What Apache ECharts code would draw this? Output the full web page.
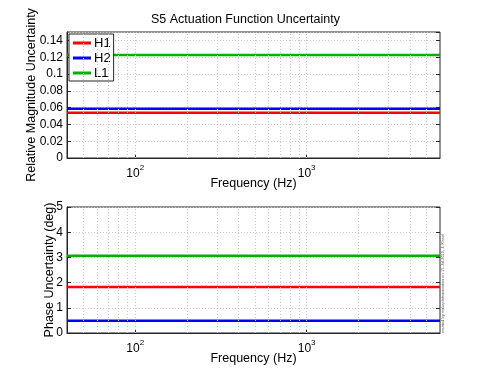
<!DOCTYPE html>
<html>
<head>
<meta charset="utf-8">
<script src="https://cdn.jsdelivr.net/npm/echarts@6/dist/echarts.min.js"></script>
<style>
html,body{margin:0;padding:0;background:#fff;}
#chart{width:491px;height:379px;}
</style>
</head>
<body>
<div id="chart"></div>
<script>
// ---- data ----
const freqRange = [40, 6000];                 // Hz, plotted span
const seriesNames = ['H1', 'H2', 'L1'];
const magUncertainty = [0.054, 0.0585, 0.1225]; // relative magnitude uncertainty
const phaseUncertainty = [1.83, 0.49, 3.07];    // degrees
const minorGridFreqs = [50, 60, 70, 80, 90, 200, 300, 400, 500, 600, 700, 800, 900, 2000, 3000, 4000, 5000];
const majorGridFreqs = [100, 1000];
const magTicks = { min: 0, max: 0.15, interval: 0.02 };
const phaseTicks = { min: 0, max: 5, interval: 1 };
const colors = ['#ff0000', '#0000ff', '#00b000'];

const FONT = '"Liberation Sans", Arial, Helvetica, sans-serif';
const chart = echarts.init(document.getElementById('chart'), null, { renderer: 'canvas' });

function xLabel(v) {
  const e = Math.log10(v);
  if (Math.abs(e - Math.round(e)) < 1e-6) return '{b|10}{s|' + Math.round(e) + '}';
  return '';
}

function makeX(gridIndex) {
  return {
    type: 'log', logBase: 10, gridIndex,
    min: freqRange[0], max: freqRange[1],
    name: 'Frequency (Hz)', nameLocation: 'middle', nameGap: 19, nameMoveOverlap: false,
    nameTextStyle: { fontFamily: FONT, fontSize: 12.5, color: '#000' },
    axisLine: { show: true, lineStyle: { color: '#262626', width: 1 } },
    axisTick: { show: true, inside: true, length: 4, lineStyle: { color: '#262626' } },
    splitLine: { show: false },
    axisLabel: {
      formatter: xLabel, margin: 6, showMinLabel: false, showMaxLabel: false,
      rich: {
        b: { fontFamily: FONT, fontSize: 12, color: '#000', verticalAlign: 'bottom', lineHeight: 16 },
        s: { fontFamily: FONT, fontSize: 8, color: '#000', verticalAlign: 'top', lineHeight: 8 }
      }
    }
  };
}

function makeY(gridIndex, t, name, nameGap) {
  return {
    type: 'value', gridIndex, min: t.min, max: t.max, interval: t.interval,
    name, nameLocation: 'middle', nameGap, nameMoveOverlap: false,
    nameTextStyle: { fontFamily: FONT, fontSize: 12.5, color: '#000' },
    axisLine: { show: true, lineStyle: { color: '#262626', width: 1 } },
    axisTick: { show: true, inside: true, length: 4, lineStyle: { color: '#262626' } },
    splitLine: { show: true, lineStyle: { color: '#c8c8c8', type: [1, 2], width: 1 } },
    axisLabel: { fontFamily: FONT, fontSize: 12, color: '#000', margin: 4, showMaxLabel: t.max % t.interval === 0 ? true : false }
  };
}

function makeYRight(gridIndex, t) {
  return {
    type: 'value', gridIndex, position: 'right', min: t.min, max: t.max, interval: t.interval,
    axisLine: { show: false },
    axisTick: { show: true, inside: true, length: 4, lineStyle: { color: '#262626' } },
    axisLabel: { show: false }, splitLine: { show: false }
  };
}

const gridLineData = minorGridFreqs.concat(majorGridFreqs).map(f => ({ xAxis: f }));

function gridHelper(xi, yi) {
  return {
    type: 'line', xAxisIndex: xi, yAxisIndex: yi, data: [], silent: true, z: 1,
    markLine: {
      silent: true, symbol: ['none', 'none'], label: { show: false },
      lineStyle: { color: '#c8c8c8', type: [1, 2], width: 1 },
      emphasis: { disabled: true },
      animation: false,
      data: gridLineData
    }
  };
}

const series = [gridHelper(0, 0), gridHelper(1, 2)];
seriesNames.forEach((n, i) => {
  series.push({
    name: n, type: 'line', xAxisIndex: 0, yAxisIndex: 0, showSymbol: false, symbol: 'none',
    lineStyle: { color: colors[i], width: 2.5 }, itemStyle: { color: colors[i] }, z: 3,
    data: freqRange.map(f => [f, magUncertainty[i]])
  });
});
seriesNames.forEach((n, i) => {
  series.push({
    name: n, type: 'line', xAxisIndex: 1, yAxisIndex: 2, showSymbol: false, symbol: 'none',
    lineStyle: { color: colors[i], width: 2.5 }, itemStyle: { color: colors[i] }, z: 3,
    data: freqRange.map(f => [f, phaseUncertainty[i]])
  });
});

chart.setOption({
  animation: false,
  backgroundColor: '#fff',
  title: {
    text: 'S5 Actuation Function Uncertainty', left: 'center', top: 8,
    textStyle: { fontFamily: FONT, fontSize: 12.5, fontWeight: 'normal', color: '#000' }
  },
  legend: {
    data: seriesNames, orient: 'vertical', left: 69, top: 34,
    backgroundColor: '#fff', borderColor: '#262626', borderWidth: 1, borderRadius: 0,
    padding: [2, 3, 1, 4], itemGap: 1, itemWidth: 18, itemHeight: 3, icon: 'rect',
    textStyle: { fontFamily: FONT, fontSize: 13, color: '#000', lineHeight: 14, padding: [0, 0, 0, -2] }
  },
  grid: [
    { left: 67, top: 32, width: 373, height: 126, show: true, borderColor: '#262626', borderWidth: 1, backgroundColor: 'transparent' },
    { left: 67, top: 207, width: 373, height: 126, show: true, borderColor: '#262626', borderWidth: 1, backgroundColor: 'transparent' }
  ],
  xAxis: [makeX(0), makeX(1)],
  yAxis: [
    makeY(0, magTicks, 'Relative Magnitude Uncertainty', 29),
    makeYRight(0, magTicks),
    makeY(1, phaseTicks, 'Phase Uncertainty (deg)', 11),
    makeYRight(1, phaseTicks)
  ],
  graphic: [{
    type: 'text', x: 441, y: 333, rotation: Math.PI / 2,
    style: { text: 'created by makeplotsactuation on 15-Jul-2010, J. Kissel', fontFamily: FONT, fontSize: 4, fill: '#555', textVerticalAlign: 'top' }
  }],
  series
});
</script>
</body>
</html>
